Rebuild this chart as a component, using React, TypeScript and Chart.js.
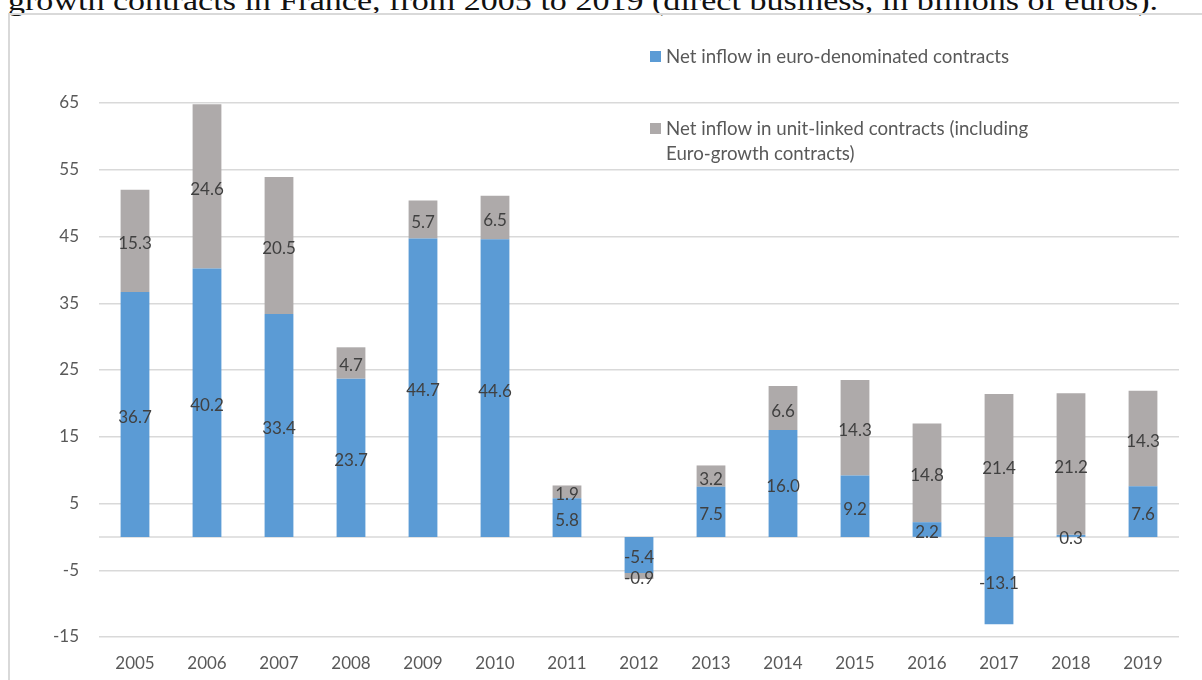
import React, { useEffect, useRef } from "react";
import { Chart, registerables } from "chart.js";

Chart.register(...registerables);

// ---- Data ----
const years = ["2005", "2006", "2007", "2008", "2009", "2010", "2011", "2012", "2013", "2014", "2015", "2016", "2017", "2018", "2019"];
const euroInflow = [36.7, 40.2, 33.4, 23.7, 44.7, 44.6, 5.8, -5.4, 7.5, 16.0, 9.2, 2.2, -13.1, 0.3, 7.6];
const unitLinkedInflow = [15.3, 24.6, 20.5, 4.7, 5.7, 6.5, 1.9, -0.9, 3.2, 6.6, 14.3, 14.8, 21.4, 21.2, 14.3];
const yTicks = [-15, -5, 5, 15, 25, 35, 45, 55, 65];
const euroLabel = "Net inflow in euro-denominated contracts";
const unitLinkedLabel = "Net inflow in unit-linked contracts (including Euro-growth contracts)";
const unitLinkedLegendLines = ["Net inflow in unit-linked contracts (including", "Euro-growth contracts)"];
const titleText = "growth contracts in France, from 2005 to 2019 (direct business, in billions of euros).";

// ---- Styles ----
const BLUE = "#5B9BD5";
const GRAY = "#AEAAAA";
const GRID = "#D9D9D9";
const TICK_COLOR = "#595959";
const LABEL_COLOR = "#404040";
const FONT_FAMILY = "Lato";
const FONT_SIZE = 17;
const LEGEND_FONT_SIZE = 18.7;

const centerLabelsPlugin = {
  id: "centerLabels",
  afterDatasetsDraw(chart: any) {
    const ctx = chart.ctx;
    ctx.save();
    ctx.font = `${FONT_SIZE}px ${FONT_FAMILY}`;
    ctx.fillStyle = LABEL_COLOR;
    ctx.textAlign = "center";
    ctx.textBaseline = "middle";
    chart.data.datasets.forEach((ds: any, i: number) => {
      const meta = chart.getDatasetMeta(i);
      meta.data.forEach((el: any, j: number) => {
        const v = ds.data[j] as number;
        const p = el.getProps(["x", "y", "base"], true);
        ctx.fillText(v.toFixed(1), p.x, (p.y + p.base) / 2 + 3);
      });
    });
    ctx.restore();
  },
};

const zeroLinePlugin = {
  id: "zeroLine",
  beforeDatasetsDraw(chart: any) {
    const { ctx, chartArea, scales } = chart;
    const y0 = scales.y.getPixelForValue(0);
    ctx.save();
    ctx.strokeStyle = GRID;
    ctx.lineWidth = 1.5;
    ctx.beginPath();
    ctx.moveTo(chartArea.left, y0);
    ctx.lineTo(chartArea.right, y0);
    ctx.stroke();
    ctx.restore();
  },
};

function BarChart() {
  const ref = useRef<HTMLCanvasElement | null>(null);
  useEffect(() => {
    if (!ref.current) return;
    const chart = new Chart(ref.current, {
      type: "bar",
      data: {
        labels: years,
        datasets: [
          { label: euroLabel, data: euroInflow, backgroundColor: BLUE, barPercentage: 0.4, categoryPercentage: 1 },
          { label: unitLinkedLabel, data: unitLinkedInflow, backgroundColor: GRAY, barPercentage: 0.4, categoryPercentage: 1 },
        ],
      },
      options: {
        animation: false,
        responsive: false,
        layout: { padding: { top: 103, left: 0, right: 23, bottom: 0 } },
        plugins: { legend: { display: false }, tooltip: { enabled: false }, title: { display: false } },
        scales: {
          x: {
            stacked: true,
            grid: { display: false, drawTicks: false },
            border: { display: false },
            ticks: { color: TICK_COLOR, font: { family: FONT_FAMILY, size: FONT_SIZE }, padding: 16, maxRotation: 0 },
            afterFit: (s: any) => { s.height = 43; },
          },
          y: {
            stacked: true,
            min: -15,
            max: 65,
            afterBuildTicks: (s: any) => { s.ticks = yTicks.map((v) => ({ value: v })); },
            grid: { color: GRID, lineWidth: 1.5, drawTicks: false },
            border: { display: false },
            ticks: { color: TICK_COLOR, font: { family: FONT_FAMILY, size: FONT_SIZE }, padding: 20 },
            afterFit: (s: any) => { s.width = 99; },
          },
        },
      },
      plugins: [zeroLinePlugin, centerLabelsPlugin],
    });
    return () => chart.destroy();
  }, []);
  return <canvas ref={ref} width={1202} height={680} style={{ position: "absolute", left: 0, top: 0 }} />;
}

const legendText: React.CSSProperties = {
  position: "absolute",
  left: 666,
  fontFamily: FONT_FAMILY,
  fontSize: LEGEND_FONT_SIZE,
  lineHeight: "25px",
  color: TICK_COLOR,
  whiteSpace: "nowrap",
};

export default function App() {
  return (
    <div style={{ position: "fixed", left: 0, top: 0, width: 1202, height: 680, overflow: "hidden", background: "#fff" }}>
      <svg width={1202} height={20} style={{ position: "absolute", left: 0, top: 0 }}>
        <text x={8} y={9.5} textLength={1150} lengthAdjust="spacingAndGlyphs" fontFamily="Liberation Serif" fontSize={27} fill="#111">
          {titleText}
        </text>
      </svg>
      <div style={{ position: "absolute", left: 7.5, top: 13, width: 1300, height: 800, borderLeft: `2px solid ${GRID}`, borderTop: `2px solid ${GRID}` }} />
      <BarChart />
      <div style={{ position: "absolute", left: 650, top: 51, width: 11, height: 11, background: BLUE }} />
      <div style={{ ...legendText, top: 44 }}>{euroLabel}</div>
      <div style={{ position: "absolute", left: 650, top: 123, width: 11, height: 11, background: GRAY }} />
      <div style={{ ...legendText, top: 115.5 }}>
        {unitLinkedLegendLines.map((l, i) => (
          <div key={i}>{l}</div>
        ))}
      </div>
    </div>
  );
}
